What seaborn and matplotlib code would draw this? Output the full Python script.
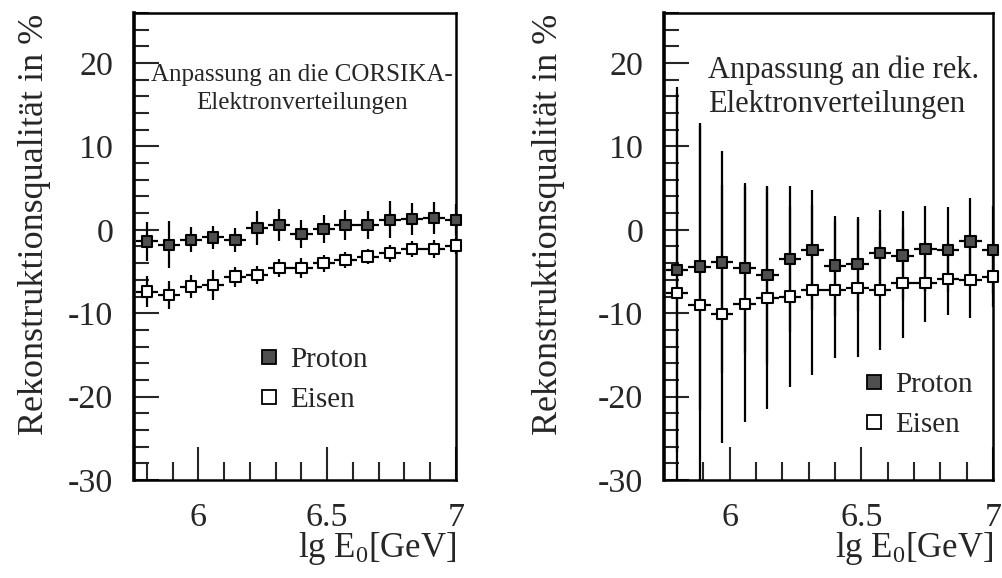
import numpy as np
import pandas as pd
import matplotlib
matplotlib.use("Agg")
import matplotlib.pyplot as plt
import seaborn as sns
from matplotlib.lines import Line2D
from matplotlib.ticker import MultipleLocator, FuncFormatter

# Bin centres in lg(E0/GeV)
lg_e0 = [5.800, 5.886, 5.971, 6.057, 6.143, 6.229, 6.314, 6.400,
         6.486, 6.571, 6.657, 6.743, 6.829, 6.914, 7.000]
bin_half_width = 0.043

# Fit to the CORSIKA electron distributions (left panel)
corsika_proton = [-1.4, -1.8, -1.2, -0.9, -1.2, 0.2, 0.6, -0.5,
                  0.1, 0.6, 0.6, 1.2, 1.3, 1.4, 1.2]
corsika_proton_err = [2.3, 2.8, 1.5, 1.4, 1.4, 2.0, 1.9, 1.7,
                      1.7, 1.8, 1.7, 2.2, 1.9, 1.9, 1.9]
corsika_iron = [-7.4, -7.8, -6.8, -6.6, -5.6, -5.4, -4.6, -4.6,
                -4.0, -3.6, -3.2, -2.8, -2.3, -2.3, -1.9]
corsika_iron_err = [1.9, 1.7, 1.4, 1.8, 1.2, 1.1, 1.1, 1.2,
                    1.0, 1.0, 0.9, 1.0, 1.0, 1.1, 1.0]

# Fit to the reconstructed electron distributions (right panel)
rec_proton = [-4.8, -4.4, -3.9, -4.6, -5.4, -3.5, -2.4, -4.3,
              -4.1, -2.8, -3.1, -2.3, -2.4, -1.4, -2.4]
rec_proton_err = [21.9, 17.2, 13.3, 10.2, 10.7, 8.8, 7.2, 6.0,
                  5.6, 5.2, 5.3, 5.2, 5.1, 5.2, 5.3]
rec_iron = [-7.6, -9.0, -10.1, -8.9, -8.2, -8.0, -7.2, -7.2,
            -7.0, -7.2, -6.4, -6.4, -5.9, -6.0, -5.6]
rec_iron_err = [24.0, 21.5, 15.5, 14.1, 13.3, 10.9, 10.2, 8.2,
                8.3, 7.2, 6.6, 4.7, 4.3, 4.6, 3.6]

series_names = ["Proton", "Eisen"]
y_label = "Rekonstruktionsqualität in %"
x_label = r"lg E$_{0}$[GeV]"

sns.set_style("ticks")
plt.rcParams["font.family"] = ["Liberation Serif", "DejaVu Serif"]
plt.rcParams["mathtext.default"] = "regular"
plt.rcParams["axes.unicode_minus"] = False

FILL = {"Proton": "#4f4f4f", "Eisen": "white"}

fig = plt.figure(figsize=(10.02, 5.78), dpi=100)
W, H = 1002.0, 578.0
ax_left = fig.add_axes([134 / W, 98 / H, 322 / W, 467 / H])
ax_right = fig.add_axes([664 / W, 98 / H, 329 / W, 467 / H])


def draw_panel(ax, proton, proton_err, iron, iron_err):
    df = pd.DataFrame({
        "lgE": lg_e0 * 2,
        "value": proton + iron,
        "err": proton_err + iron_err,
        "Teilchen": ["Proton"] * len(lg_e0) + ["Eisen"] * len(lg_e0),
    })
    for name in series_names:
        sub = df[df["Teilchen"] == name]
        ax.errorbar(sub["lgE"], sub["value"], yerr=sub["err"],
                    xerr=bin_half_width, fmt="none", ecolor="black",
                    elinewidth=1.6, capsize=0, zorder=2)
    sns.scatterplot(data=df, x="lgE", y="value", hue="Teilchen",
                    style="Teilchen", markers={"Proton": "s", "Eisen": "s"},
                    palette=FILL, edgecolor="black", linewidth=1.5, s=58,
                    legend=False, ax=ax, zorder=3, clip_on=False)

    ax.set_xlim(5.75, 7.0)
    ax.set_ylim(-30, 26)
    ax.xaxis.set_major_locator(MultipleLocator(0.5))
    ax.xaxis.set_minor_locator(MultipleLocator(0.1))
    ax.yaxis.set_major_locator(MultipleLocator(10))
    ax.yaxis.set_minor_locator(MultipleLocator(2))
    ax.xaxis.set_major_formatter(FuncFormatter(lambda v, p: f"{v:g}"))
    ax.yaxis.set_major_formatter(FuncFormatter(lambda v, p: f"{v:g}"))

    ax.tick_params(axis="x", which="major", direction="in", length=24,
                   width=1.5, pad=16, labelsize=24.5, top=False)
    ax.tick_params(axis="x", which="minor", direction="in", length=13,
                   width=1.5, top=False)
    ax.tick_params(axis="y", which="major", direction="in", length=18,
                   width=1.5, pad=15, labelsize=24.5, right=False)
    ax.tick_params(axis="y", which="minor", direction="in", length=11,
                   width=1.5, right=False)
    for side, spine in ax.spines.items():
        spine.set_visible(True)
        spine.set_color("black")
        spine.set_linewidth(2.6 if side == "left" else 1.8)

    ax.set_xlabel(x_label, fontsize=25, ha="right", va="center")
    ax.xaxis.set_label_coords(1.0, -0.146)
    ax.set_ylabel(y_label, fontsize=26, va="center")


draw_panel(ax_left, corsika_proton, corsika_proton_err,
           corsika_iron, corsika_iron_err)
draw_panel(ax_right, rec_proton, rec_proton_err, rec_iron, rec_iron_err)

ax_left.yaxis.set_label_coords(-0.31, 0.547)
ax_right.yaxis.set_label_coords(-0.35, 0.547)

# Panel captions
ax_left.text(0.522, 0.867, "Anpassung an die CORSIKA-", transform=ax_left.transAxes,
             ha="center", va="center", fontsize=18)
ax_left.text(0.522, 0.807, "Elektronverteilungen", transform=ax_left.transAxes,
             ha="center", va="center", fontsize=18)
ax_right.text(0.134, 0.878, "Anpassung an die rek.", transform=ax_right.transAxes,
              ha="left", va="center", fontsize=22)
ax_right.text(0.134, 0.803, "Elektronverteilungen", transform=ax_right.transAxes,
              ha="left", va="center", fontsize=22)


def legend_handles():
    return [Line2D([], [], marker="s", ls="none", markersize=10,
                   markerfacecolor=FILL[n], markeredgecolor="black",
                   markeredgewidth=1.3) for n in series_names]


for ax, (lx, ly) in ((ax_left, (257, 380)), (ax_right, (862, 405))):
    ax.legend(legend_handles(), series_names, loc="center left",
              bbox_to_anchor=(lx / W, 1 - ly / H), bbox_transform=fig.transFigure,
              frameon=False, fontsize=21, handlelength=0.8, handletextpad=0.35,
              labelspacing=0.45, borderpad=0, borderaxespad=0)

fig.savefig("out.png", dpi=100, facecolor="white")
